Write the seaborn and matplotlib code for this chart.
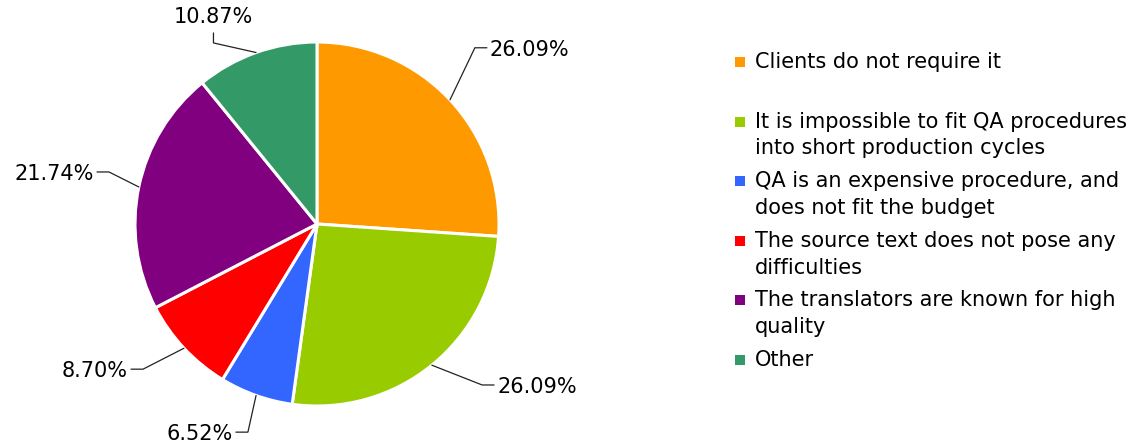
import matplotlib
matplotlib.use("Agg")
import numpy as np
import matplotlib.pyplot as plt
from matplotlib.patches import Rectangle
import seaborn as sns

# Reasons given for skipping QA, share of respondents (%)
categories = [
    "Clients do not require it",
    "It is impossible to fit QA procedures\ninto short production cycles",
    "QA is an expensive procedure, and\ndoes not fit the budget",
    "The source text does not pose any\ndifficulties",
    "The translators are known for high\nquality",
    "Other",
]
shares = [26.09, 26.09, 6.52, 8.70, 21.74, 10.87]
share_labels = ["26.09%", "26.09%", "6.52%", "8.70%", "21.74%", "10.87%"]
slice_colors = ["#FF9900", "#99CC00", "#3366FF", "#FF0000", "#800080", "#339966"]

sns.set_theme(style="white")
plt.rcParams["font.family"] = ["DejaVu Sans"]
palette = sns.color_palette(slice_colors)

W, H = 1142, 447
fig = plt.figure(figsize=(W / 100, H / 100), dpi=100)
ax = fig.add_axes([0, 0, 1, 1])

# pixel-scaled axes: y measured from the bottom edge
cx, cy, R = 317.0, H - 224.0, 182.0
wedges, _ = ax.pie(
    shares,
    colors=palette,
    startangle=90,
    counterclock=False,
    center=(cx, cy),
    radius=R,
    frame=True,
    wedgeprops=dict(edgecolor="white", linewidth=2.2),
)
ax.set_xlim(0, W)
ax.set_ylim(0, H)
ax.set_aspect("equal")
ax.axis("off")

# leader-line layout for the percentage labels: (radius factor, angle nudge in deg, tick direction)
leader_layout = [
    (1.30, 5.1, "right"),
    (1.267, 6.6, "right"),
    (1.205, 1.2, "left"),
    (1.245, -3.2, "left"),
    (1.178, -2.3, "left"),
    (1.146, 10.2, "up"),
]
tick_len = 12
fs = 15
for w, text, (fac, nudge, side) in zip(wedges, share_labels, leader_layout):
    mid = np.deg2rad((w.theta1 + w.theta2) / 2)
    x0, y0 = cx + R * np.cos(mid), cy + R * np.sin(mid)
    a = mid + np.deg2rad(nudge)
    x1, y1 = cx + fac * R * np.cos(a), cy + fac * R * np.sin(a)
    if side == "right":
        x2, y2 = x1 + tick_len, y1
        ax.text(x2 + 3, y2 - 2, text, ha="left", va="center", fontsize=fs, color="black")
    elif side == "left":
        x2, y2 = x1 - tick_len, y1
        ax.text(x2 - 3, y2 - 2, text, ha="right", va="center", fontsize=fs, color="black")
    else:
        x2, y2 = x1, y1 + 10
        ax.text(x2, y2 + 6, text, ha="center", va="bottom", fontsize=fs, color="black")
    ax.plot([x0, x1, x2], [y0, y1, y2], color="#222222", lw=0.9, solid_joinstyle="miter")

# legend: equal-height slots, squares aligned with the first text line
slot_top = H - 62.0
slot_h = 59.6
for i, (label, col) in enumerate(zip(categories, palette)):
    yl = slot_top - i * slot_h
    ax.add_patch(Rectangle((735, yl - 5), 10, 10, facecolor=col, edgecolor="none"))
    ax.text(755, yl + 10, label, ha="left", va="top", fontsize=fs,
            color="black", linespacing=1.42)

fig.savefig("out.png", dpi=100)
